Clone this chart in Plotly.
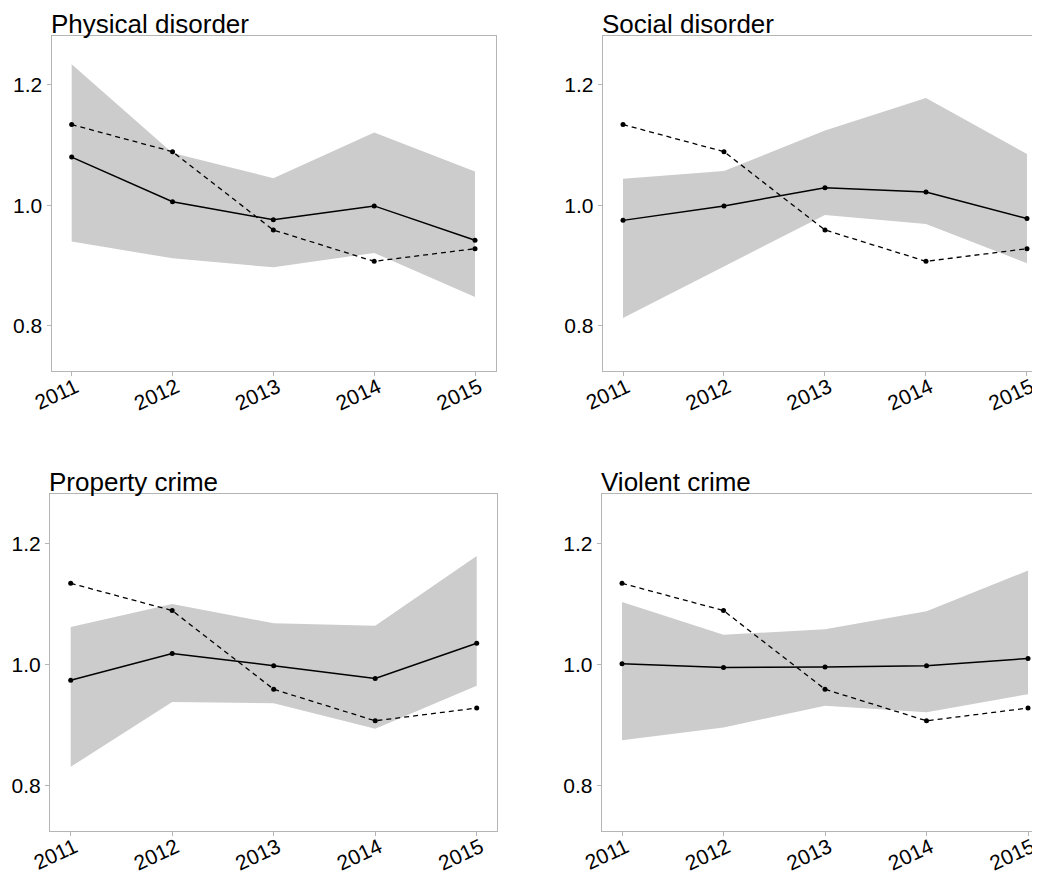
import plotly.graph_objects as go

years = [2011, 2012, 2013, 2014, 2015]
titles = ["Physical disorder", "Social disorder", "Property crime", "Violent crime"]

reference_line = [1.134, 1.089, 0.959, 0.907, 0.928]

physical_mean = [1.080, 1.006, 0.976, 0.999, 0.942]
physical_lower = [0.940, 0.912, 0.897, 0.921, 0.848]
physical_upper = [1.234, 1.087, 1.045, 1.121, 1.056]

social_mean = [0.975, 0.999, 1.029, 1.022, 0.978]
social_lower = [0.813, 0.898, 0.984, 0.969, 0.904]
social_upper = [1.044, 1.057, 1.124, 1.178, 1.085]

property_mean = [0.974, 1.018, 0.998, 0.977, 1.035]
property_lower = [0.831, 0.938, 0.936, 0.894, 0.965]
property_upper = [1.062, 1.100, 1.068, 1.064, 1.179]

violent_mean = [1.001, 0.995, 0.996, 0.998, 1.010]
violent_lower = [0.875, 0.896, 0.932, 0.921, 0.951]
violent_upper = [1.103, 1.049, 1.058, 1.088, 1.155]

y_ticks = [0.8, 1.0, 1.2]
y_tick_text = ["0.8", "1.0", "1.2"]
x_tick_text = ["2011", "2012", "2013", "2014", "2015"]

panels = [
    (physical_mean, physical_lower, physical_upper),
    (social_mean, social_lower, social_upper),
    (property_mean, property_lower, property_upper),
    (violent_mean, violent_lower, violent_upper),
]

# the page body has an 8px margin, so the figure starts at (8, 8)
OFF = 8
W, H = 1040 - OFF, 875 - OFF
# page-pixel frames: (left, right, top, bottom), x-range
frames = [
    (51.5, 495.7, 36.0, 371.0, [2010.8, 2015.205]),
    (602.7, 1040.0, 36.0, 371.0, [2010.799, 2015.129]),
    (50.0, 497.0, 494.3, 831.0, [2010.796, 2015.2]),
    (601.7, 1040.0, 494.3, 831.0, [2010.8, 2015.118]),
]
y_range = [0.725, 1.281]

AX = "#b5b5b5"
FONT = "Liberation Sans, Arial, Helvetica, sans-serif"

fig = go.Figure()
layout = {}
annotations = []
for i, ((mean, lower, upper), (l, r, t, b, xr)) in enumerate(zip(panels, frames)):
    l, r, t, b = l - OFF, r - OFF, t - OFF, b - OFF
    n = i + 1
    xa = "x" if n == 1 else f"x{n}"
    ya = "y" if n == 1 else f"y{n}"
    fig.add_trace(go.Scatter(x=years, y=lower, xaxis=xa, yaxis=ya, mode="lines",
                             line=dict(width=0, color="#cccccc"), showlegend=False,
                             hoverinfo="skip"))
    fig.add_trace(go.Scatter(x=years, y=upper, xaxis=xa, yaxis=ya, mode="lines",
                             line=dict(width=0, color="#cccccc"), fill="tonexty",
                             fillcolor="#cccccc", showlegend=False, hoverinfo="skip"))
    fig.add_trace(go.Scatter(x=years, y=reference_line, xaxis=xa, yaxis=ya,
                             mode="lines+markers",
                             line=dict(color="black", width=1.3, dash="5px,4px"),
                             marker=dict(color="black", size=5), showlegend=False))
    fig.add_trace(go.Scatter(x=years, y=mean, xaxis=xa, yaxis=ya,
                             mode="lines+markers",
                             line=dict(color="black", width=1.5),
                             marker=dict(color="black", size=5), showlegend=False))
    right_col = (n % 2 == 0)
    layout["xaxis" if n == 1 else f"xaxis{n}"] = dict(
        domain=[max(l / W, 0), min(r / W, 1)], range=xr, anchor=ya, automargin=False,
        tickmode="array", tickvals=years, ticktext=x_tick_text, tickangle=-25,
        showline=True, linecolor=AX, linewidth=1, mirror=True,
        ticks="outside", ticklen=4, tickcolor=AX, showgrid=False, zeroline=False,
        ticklabelstandoff=-9, ticklabelshift=4,
        tickfont=dict(size=21, color="black", family=FONT),
    )
    layout["yaxis" if n == 1 else f"yaxis{n}"] = dict(
        domain=[1 - b / H, 1 - t / H], range=y_range, anchor=xa, automargin=False,
        tickmode="array", tickvals=y_ticks, ticktext=y_tick_text,
        showline=True, linecolor=AX, linewidth=1, mirror=(not right_col),
        ticks="outside", ticklen=4, tickcolor=AX, showgrid=False, zeroline=False,
        tickfont=dict(size=21, color="black", family=FONT),
    )
    annotations.append(dict(text=titles[i], xref="paper", yref="paper",
                            x=l / W, y=1 - t / H, xanchor="left", yanchor="bottom",
                            showarrow=False, yshift=-4, xshift=-2, borderpad=0,
                            font=dict(size=26, color="black", family=FONT)))

fig.update_layout(**layout)
fig.update_layout(width=W, height=H, margin=dict(l=0, r=0, t=0, b=0, autoexpand=False),
                  plot_bgcolor="white", paper_bgcolor="white",
                  annotations=annotations, showlegend=False,
                  font=dict(family=FONT, color="black"))
fig.write_html("out.html")
